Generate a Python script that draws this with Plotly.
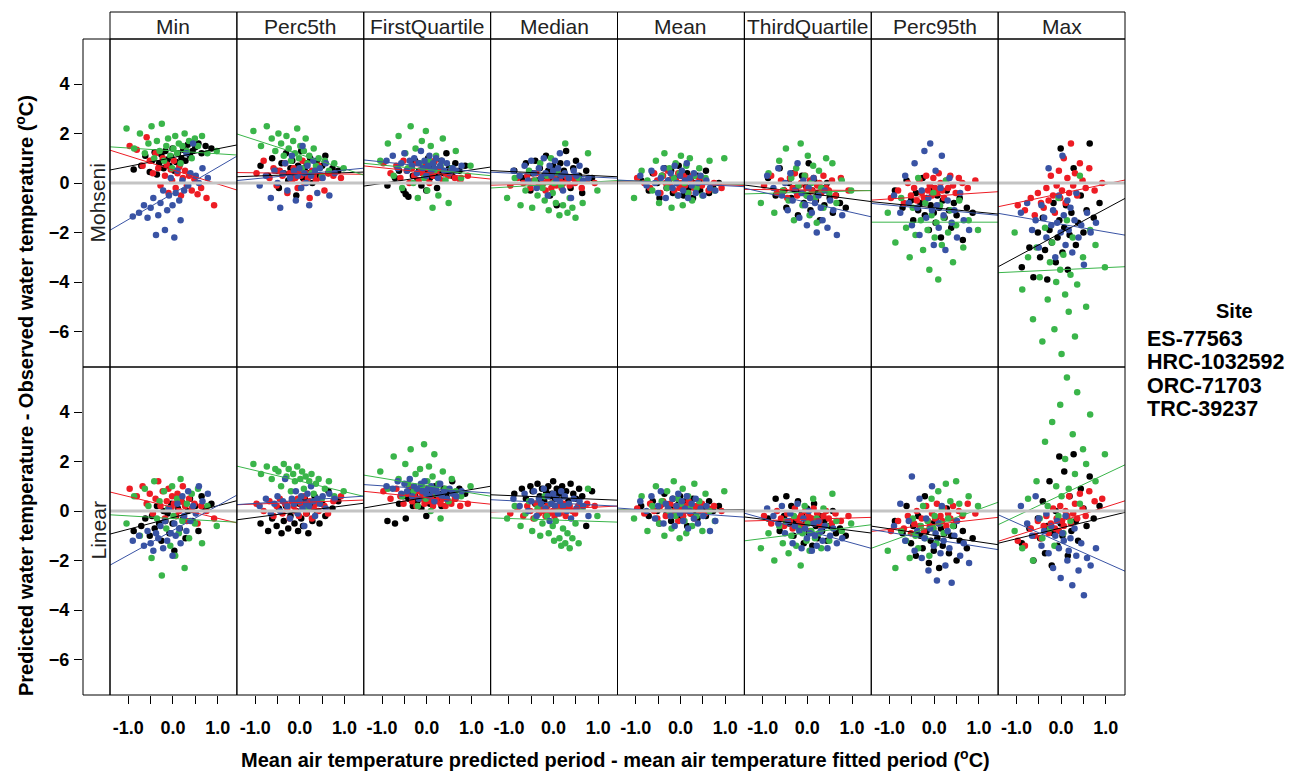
import plotly.graph_objects as go

# ---------------- data ----------------
stats = ["Min", "Perc5th", "FirstQuartile", "Median", "Mean", "ThirdQuartile", "Perc95th", "Max"]
models = ["Mohseni", "Linear"]
sites = ["ES-77563", "HRC-1032592", "ORC-71703", "TRC-39237"]
site_colors = ["#000000", "#ED1C24", "#3AB54A", "#3953A4"]

x_ticks = [-1.0, 0.0, 1.0]
x_tick_text = ["-1.0", "0.0", "1.0"]
x_minor_ticks = [-0.5, 0.5]
y_ticks = [-6, -4, -2, 0, 2, 4]

# air-temperature difference (predicted - fitted period), per site
x_es = [-0.88, -0.71, -0.62, -0.52, -0.47, -0.41, -0.36, -0.31, -0.26, -0.21,
        -0.17, -0.12, -0.08, -0.04, -0.01, 0.03, 0.07, 0.11, 0.15, 0.19,
        0.23, 0.28, 0.33, 0.38, 0.44, 0.5, 0.57, 0.64, 0.73, 0.86]
x_hrc = [-0.97, -0.81, -0.68, -0.59, -0.52, -0.45, -0.39, -0.33, -0.28, -0.23,
         -0.18, -0.14, -0.1, -0.05, -0.02, 0.02, 0.06, 0.1, 0.14, 0.18,
         0.22, 0.27, 0.31, 0.36, 0.42, 0.48, 0.55, 0.63, 0.75, 0.92]
x_orc = [-1.04, -0.87, -0.74, -0.63, -0.55, -0.48, -0.42, -0.36, -0.3, -0.25,
         -0.2, -0.15, -0.11, -0.06, -0.02, 0.01, 0.05, 0.09, 0.13, 0.17,
         0.21, 0.26, 0.31, 0.36, 0.42, 0.49, 0.56, 0.65, 0.77, 0.98]
x_trc = [-0.9, -0.76, -0.65, -0.57, -0.5, -0.44, -0.38, -0.33, -0.28, -0.22,
         -0.18, -0.13, -0.09, -0.05, -0.01, 0.03, 0.06, 0.1, 0.14, 0.17,
         0.21, 0.25, 0.3, 0.34, 0.39, 0.45, 0.51, 0.58, 0.66, 0.78]

# predicted - observed water temperature, per panel: [ES, HRC, ORC, TRC]
mohseni_min = [
    [0.55, 0.7, 1.1, 0.45, 0.9, 1.25, 0.35, 0.8, 1.15, 0.6, 1.3, 0.95, 0.7, 1.05, 1.4, 0.5, 0.85, 1.2, 0.75, 1.0, 1.35, 0.9, 1.55, 1.1, 1.3, 1.45, 1.6, 1.2, 1.5, 1.4],
    [1.5, 1.35, 0.7, 1.85, 0.9, 0.4, 1.2, 0.6, -0.1, 1.0, 0.3, 0.75, -0.4, 0.55, 0.1, 0.9, -0.2, 0.4, 0.65, -0.5, 0.2, 0.5, -0.1, 0.3, -0.3, 0.15, -0.45, -0.2, -0.6, -0.9],
    [2.2, 1.4, 2.0, 1.2, 1.6, 2.3, 1.0, 1.7, 1.3, 2.4, 0.9, 1.5, 1.8, 1.1, 0.6, 1.4, 1.9, 1.2, 1.6, 0.8, 1.5, 2.0, 1.3, 1.7, 1.0, 1.8, 1.5, 1.9, 1.2, 1.3],
    [-1.35, -1.2, -0.9, -1.4, -1.0, -0.6, -2.1, -1.3, -0.8, -0.3, -1.9, -1.1, -0.5, 0.2, -0.9, -2.2, -0.4, 0.5, -0.7, -1.5, 0.1, -0.3, 1.2, -0.1, 0.4, 1.6, 0.3, 0.0, 0.6, 0.2]]
mohseni_perc5th = [
    [0.7, 0.3, 1.0, 0.5, -0.2, 0.8, 0.4, 1.2, 0.1, 0.6, 0.9, 0.3, -0.5, 0.7, 0.5, 1.3, 0.2, 0.6, 0.8, 0.4, 1.0, 0.0, 0.5, 0.9, 0.3, 0.7, 1.1, 0.4, 0.6, 0.5],
    [0.4, 0.9, 0.2, 0.6, -0.1, 0.5, 0.3, 0.8, -0.4, 0.4, 0.1, 0.6, 0.2, -0.2, 0.5, 0.3, 0.9, 0.0, 0.4, 0.2, -0.6, 0.5, 0.3, 0.1, 0.7, 0.2, -0.3, 0.4, 0.3, 0.2],
    [2.1, 1.5, 2.3, 1.8, 1.3, 2.0, 1.6, 1.1, 1.9, 1.4, 0.9, 1.7, 1.2, 2.2, 1.0, 1.5, 0.6, 1.3, 1.8, 0.8, 1.1, 0.4, 1.4, 0.7, 1.0, 0.3, 0.9, 0.5, 0.8, 0.6],
    [-0.1, 0.3, -0.6, 0.5, 0.0, -1.0, 0.4, 0.8, -0.3, 0.2, 1.1, 0.5, -0.7, 0.3, 0.6, -0.2, 1.5, 0.4, 0.0, 0.7, -0.9, 0.3, 0.9, 0.5, -0.4, 0.6, 0.2, 0.8, -0.5, 0.4]]
mohseni_firstquartile = [
    [-0.1, 0.2, 0.5, -0.3, -0.45, -0.55, 0.6, 0.3, 0.9, 0.1, 0.5, -0.1, 0.7, 0.4, -0.3, 1.0, 0.2, 0.6, 0.8, 0.3, -0.2, 0.5, 0.9, 0.4, 1.2, 0.6, 0.3, 0.8, 0.5, 0.7],
    [0.8, 0.4, 0.7, 0.2, 0.9, 0.5, 0.0, 0.6, 0.3, 0.8, 0.1, 0.5, 0.4, 0.7, 0.2, 0.6, 0.0, 0.4, 0.3, 0.9, 0.5, 0.2, 0.6, 0.1, 0.4, 0.3, 0.5, 0.2, 0.1, 0.3],
    [0.9, 1.6, 0.3, 1.9, -0.2, 1.2, 0.6, 2.3, 0.0, 1.4, -0.6, 0.8, 1.7, 0.2, 2.1, -0.3, 0.9, 1.5, -1.0, 0.5, 1.1, -0.5, 0.7, 1.8, 0.1, -0.8, 0.6, 1.3, 0.2, 0.7],
    [0.9, 1.1, 0.6, 0.8, 1.2, 0.5, 0.9, 0.7, 1.0, 0.4, 0.8, 1.3, 0.6, 0.9, 0.3, 0.7, 1.1, 0.5, 0.8, 0.6, 1.0, 0.2, 0.7, 0.9, 0.5, 0.8, 0.4, 0.6, 0.5, 0.7]]
mohseni_median = [
    [0.5, 0.2, 0.8, -0.3, 0.4, 0.9, 0.1, 0.6, -0.1, 0.3, 1.1, 0.5, -0.5, 0.2, 0.7, 0.4, -0.9, 0.3, 0.8, 0.1, 0.5, 1.3, 0.2, -0.2, 0.6, 0.9, 0.3, -0.4, 0.5, 0.2],
    [-0.1, 0.2, 0.0, 0.3, -0.2, 0.1, 0.4, -0.1, 0.2, 0.0, -0.3, 0.1, 0.3, -0.2, 0.0, 0.2, -0.1, 0.4, 0.1, -0.2, 0.0, 0.3, 0.1, -0.1, 0.2, 0.0, 0.1, -0.2, 0.1, 0.0],
    [-0.6, 0.2, -0.9, -0.3, 0.5, -1.0, 0.1, -0.5, 0.8, -0.2, -0.7, 0.3, -1.1, 1.0, -0.4, 0.0, -0.8, 0.4, -1.3, -0.1, -0.9, 1.6, -1.2, -0.6, -1.0, -1.4, 0.2, -0.8, 1.2, -0.3],
    [0.5, 0.3, 0.7, 0.1, 0.9, 0.4, -0.2, 0.6, 0.2, 1.0, 0.4, -0.5, 0.7, 0.3, 0.5, 0.9, 0.1, 0.6, 1.2, 0.3, -0.3, 0.4, 0.8, 0.2, -0.6, 0.5, 0.3, 0.7, 0.1, 0.2]]
mohseni_mean = [
    [0.1, -0.3, 0.4, 0.0, -0.6, 0.3, 0.6, -0.2, 0.1, 0.5, -0.4, 0.2, 0.0, 0.7, -0.1, 0.3, -0.5, 0.1, 0.4, -0.2, 0.2, -0.6, 0.0, 0.3, -0.3, 0.1, 0.5, -0.4, -0.1, 0.0],
    [0.2, 0.0, -0.2, 0.4, 0.1, -0.4, 0.3, 0.0, 0.5, -0.1, 0.2, -0.3, 0.1, 0.4, -0.2, 0.0, 0.3, -0.1, 0.2, -0.4, 0.1, 0.3, -0.2, 0.0, 0.2, -0.1, 0.1, -0.3, 0.0, -0.2],
    [-0.6, 0.5, 0.1, -0.3, 0.9, -0.8, 0.3, 1.2, -0.2, 0.6, -1.0, 0.2, 0.8, -0.5, 0.4, 1.1, -0.9, 0.0, 0.7, -0.4, 1.0, -0.7, 0.3, -0.2, 0.6, -0.5, 0.2, 0.9, -0.3, 1.0],
    [0.3, -0.1, 0.5, 0.0, -0.4, 0.2, 0.6, -0.6, 0.1, 0.4, -0.2, 0.7, 0.0, -0.5, 0.3, 0.5, -0.3, 0.1, 0.8, -0.6, 0.2, -0.1, 0.4, -0.4, 0.0, 0.3, -0.5, 0.1, -0.2, -0.3]]
mohseni_thirdquartile = [
    [0.2, -0.5, 0.6, -0.3, -1.0, 0.0, -0.6, 0.4, -0.2, -1.3, -0.4, 0.3, -0.8, -0.1, -0.5, 0.8, -1.1, -0.3, 0.1, -0.7, -0.4, -1.5, -0.2, -0.9, 0.0, -0.6, -1.2, -0.5, -0.8, -1.0],
    [-0.1, 0.3, -0.4, 0.1, -0.3, -0.6, 0.2, -0.2, 0.4, -0.5, -0.1, 0.0, -0.4, 0.3, -0.2, -0.5, 0.1, -0.3, 0.2, -0.6, -0.1, 0.0, -0.4, 0.3, -0.2, -0.3, 0.1, -0.5, 0.2, -0.3],
    [-0.8, 0.4, -1.2, 0.9, -0.3, 1.4, -0.7, 0.2, -1.5, 0.6, -0.1, 1.6, -0.9, 0.3, -0.5, 1.1, -1.3, 0.0, 0.7, -0.6, -1.6, 0.5, -0.2, -1.0, 1.0, -0.4, 0.8, -0.8, 0.1, -0.3],
    [0.3, -0.2, 0.6, -0.5, 0.0, -1.1, 0.4, -0.7, -0.3, 0.8, -1.4, -0.4, 0.1, -0.9, -1.7, -0.2, -0.6, -1.2, 0.2, -0.8, -2.0, -0.5, -1.0, -1.5, -0.3, -1.8, -0.7, -1.1, -2.1, -1.3]]
mohseni_perc95th = [
    [-0.3, -1.0, 0.1, -0.7, -1.5, -0.4, -1.1, -0.8, 0.2, -1.3, -0.6, -1.9, -0.9, -0.2, -1.2, -1.6, -0.5, -1.0, -2.2, -0.7, -1.4, -0.3, -1.1, -1.8, -0.8, -1.3, -0.6, -2.3, -1.0, -1.2],
    [-0.6, -0.3, -0.8, 0.0, -0.5, -0.2, -0.7, 0.1, -0.4, -0.6, 0.3, -0.3, -0.1, -0.5, 0.2, -0.2, -0.4, 0.4, 0.0, -0.3, -0.6, 0.1, -0.2, 0.3, -0.1, -0.4, 0.2, 0.0, -0.2, 0.1],
    [-1.2, -2.4, -0.6, -1.8, -3.0, -1.0, -2.1, 0.2, -1.5, -2.7, -0.8, -1.9, -3.5, -1.3, -0.4, -2.2, -1.6, -3.9, -0.9, -2.5, -1.4, 0.1, -2.0, -1.1, -3.2, -1.7, -0.7, -2.6, -1.5, -1.9],
    [-0.5, -1.2, 0.3, -0.8, -1.7, 0.8, -1.0, -2.1, -0.3, 1.3, -1.4, -0.6, 1.6, -1.1, -2.5, 0.5, -0.9, -1.8, -0.2, 1.1, -1.3, -2.7, -0.7, 0.2, -1.6, -1.1, -2.2, -0.4, -1.5, -1.9]]
mohseni_max = [
    [-3.4, -2.6, -3.8, -2.0, -3.0, -1.4, -2.7, -3.9, -1.9, -2.4, -0.8, -3.2, -2.2, -1.5, 1.4, -2.8, -1.8, -0.9, -3.5, -2.1, -1.2, 0.6, -2.5, -1.6, -0.5, -2.0, -1.1, 1.6, -1.4, -0.8],
    [-0.9, -1.1, -0.6, -1.3, -0.4, -0.8, -1.0, -0.2, -0.7, 0.3, -0.5, -1.2, -0.1, 0.5, -0.6, -0.3, 1.0, -0.8, 0.2, -0.4, 1.6, -0.1, 0.4, -0.5, 0.8, 0.1, -0.2, 0.6, -0.3, 0.0],
    [-2.0, -4.3, -3.0, -5.5, -2.6, -3.8, -6.4, -1.8, -4.7, -3.2, -2.4, -5.9, -4.0, -0.6, -3.5, -6.9, -2.9, -4.5, -1.5, -5.2, -3.7, -2.2, -6.2, -4.1, 0.3, -3.0, -5.0, -1.9, -2.5, -3.4],
    [-1.2, -0.8, -1.9, -1.5, -2.6, -0.9, -1.4, -2.2, 0.6, -1.7, -1.1, -3.0, -1.6, -0.5, -2.0, 1.1, -1.3, -2.5, -0.7, -1.9, -1.0, -2.8, -1.5, -0.4, -2.2, -1.7, -3.3, -1.2, -2.0, -1.6]]

linear_min = [
    [-0.8, -0.6, -0.3, -1.0, -0.2, -0.7, 0.2, -0.5, -1.2, 0.0, -0.4, -0.1, -0.9, 0.3, -0.5, -1.6, -0.2, 0.1, -0.7, 0.4, -0.3, -1.1, 0.0, 0.5, -0.4, 0.2, -0.8, 0.6, 0.1, 0.3],
    [0.9, 0.6, 1.0, 0.3, 0.7, -0.1, 0.5, 1.2, 0.2, 0.8, -0.3, 0.4, 0.9, 0.1, 0.6, 0.3, -0.2, 0.7, 0.0, 0.4, 1.0, 0.2, -0.4, 0.5, 0.1, 0.3, -0.5, 0.2, 0.0, -0.3],
    [-0.5, 0.6, -1.0, 0.9, 0.2, -1.9, 1.2, -0.3, 0.4, -2.6, 0.8, -0.7, 0.1, -1.4, 1.0, -0.2, -1.8, 0.5, -0.9, 1.3, -0.4, -2.3, 0.3, -1.1, 0.7, -0.5, 0.9, -1.3, 0.2, -0.6],
    [-1.2, -1.0, -1.4, -0.8, -1.3, -1.6, -0.9, -1.1, -0.6, -1.5, -0.4, -1.2, 0.1, -0.9, -1.8, -0.5, -1.0, 0.3, -0.7, -1.3, 0.6, -0.2, -0.8, 0.8, -0.4, 0.2, -0.1, 1.0, 0.4, 0.7]]
linear_perc5th = [
    [-0.5, -0.8, -0.3, -0.6, 0.1, -0.9, -0.4, 0.2, -0.7, -0.2, 0.4, -0.5, 0.0, -0.8, 0.3, -0.3, -0.6, 0.5, -0.1, -0.9, 0.2, -0.4, 0.6, 0.0, -0.5, 0.3, -0.2, 0.8, 0.1, 0.4],
    [0.3, 0.0, 0.4, -0.2, 0.2, 0.5, -0.1, 0.3, 0.1, -0.3, 0.4, 0.2, 0.0, 0.5, -0.2, 0.3, 0.1, 0.6, -0.1, 0.2, 0.4, -0.3, 0.1, 0.3, 0.0, 0.5, 0.2, -0.1, 0.4, 0.6],
    [1.9, 1.5, 1.8, 1.3, 1.7, 1.6, 1.0, 1.9, 1.4, 1.7, 0.8, 1.5, 1.2, 1.8, 0.4, 1.3, 1.6, 0.9, 1.4, 0.1, 1.2, 1.5, 0.7, 1.1, 1.3, 0.5, 0.9, 1.2, 0.6, 0.8],
    [0.2, 0.5, -0.1, 0.3, 0.6, 0.0, 0.4, 1.3, 0.2, -0.3, 0.5, 0.3, 0.8, -0.1, 0.4, 0.6, 0.1, -0.6, 0.3, 0.7, 0.2, 1.0, 0.4, -0.2, 0.5, 0.3, 0.6, 0.1, 0.7, 0.5]]
linear_firstquartile = [
    [-0.4, -0.5, 0.3, 0.6, -0.3, 0.5, 0.8, 0.2, 0.6, 0.4, 0.9, 0.1, 0.7, 0.5, -0.2, 0.8, 0.3, 0.6, 0.4, 1.0, 0.5, 0.7, 0.2, 0.9, 0.6, 0.8, 1.2, 0.5, 0.9, 0.7],
    [0.8, 0.5, 0.9, 0.6, 0.3, 0.7, 1.0, 0.4, 0.6, 0.2, 0.8, 0.5, 0.7, 0.3, 0.6, 0.9, 0.4, 0.5, 0.2, 0.7, 0.4, 0.6, 0.3, 0.5, 0.2, 0.4, 0.3, 0.5, 0.2, 0.3],
    [1.6, 0.9, 2.2, 1.3, 0.6, 1.9, 1.1, 2.5, 0.8, 1.5, 0.2, 1.7, 1.0, 2.7, 0.5, 1.2, 1.8, 0.0, 1.4, 2.3, 0.7, 1.1, -0.3, 1.6, 0.9, 0.4, 1.3, 0.8, 0.6, 1.0],
    [1.0, 0.9, 1.2, 0.7, 1.1, 0.8, 1.3, 0.6, 1.0, 0.9, 0.5, 1.1, 0.8, 1.2, 0.7, 0.9, 0.6, 1.0, 0.8, 0.4, 0.9, 0.7, 1.1, 0.6, 0.8, 0.5, 0.9, 0.7, 0.6, 0.8]]
linear_median = [
    [0.7, 0.9, 0.5, 1.0, 0.8, 0.3, 1.1, 0.6, 0.9, 0.4, 0.8, 1.0, 0.6, 0.7, 1.2, 0.5, 0.9, 0.7, 0.3, 1.0, 0.6, 0.8, 0.4, 1.1, 0.7, 0.5, 0.9, 0.6, -0.6, 0.8],
    [-0.1, 0.1, -0.2, 0.2, 0.0, -0.3, 0.3, -0.1, 0.1, 0.0, -0.2, 0.2, -0.1, 0.3, 0.0, -0.2, 0.1, 0.2, -0.1, 0.0, 0.3, -0.2, 0.1, 0.2, 0.0, -0.1, 0.2, 0.1, 0.3, 0.2],
    [-0.3, 0.2, -0.6, -0.1, 0.4, -0.8, -0.3, 0.1, -1.0, -0.5, 0.6, -0.2, -0.9, 0.3, -0.6, -1.2, -0.4, 0.0, -1.1, -1.4, -0.7, -1.3, -0.9, -1.5, -1.1, -0.5, -1.3, 0.1, 0.9, -0.2],
    [0.5, 0.2, 0.7, 0.0, 0.4, 0.8, -0.2, 0.5, 0.3, 0.9, 0.1, 0.6, -0.4, 0.3, 0.7, 0.2, 0.5, -0.1, 0.4, 0.8, 0.2, 0.6, 0.0, 0.3, -0.3, 0.5, 0.1, 0.4, 0.2, -0.2]]
linear_mean = [
    [0.2, -0.2, 0.4, 0.0, -0.5, 0.3, 0.7, -0.1, 0.2, -0.4, 0.5, 0.1, -0.2, 0.3, 0.6, -0.3, 0.0, 0.4, -0.6, 0.2, -0.1, 0.5, 0.0, -0.3, 0.3, 0.1, -0.2, 0.4, 0.0, 0.2],
    [0.1, -0.1, 0.3, 0.0, -0.3, 0.2, 0.4, -0.2, 0.1, 0.3, -0.1, 0.0, 0.2, -0.4, 0.1, 0.3, -0.2, 0.0, 0.2, 0.4, -0.1, 0.1, -0.3, 0.2, 0.0, 0.3, -0.1, 0.1, 0.2, 0.0],
    [-0.3, 0.6, -0.8, 0.2, 1.0, -0.5, 0.4, -1.0, 0.8, 0.0, -0.7, 1.2, -0.2, 0.5, -1.1, 0.3, 0.9, -0.4, -0.9, 0.6, 0.1, -0.6, 1.1, -0.2, 0.4, -0.8, 0.7, 0.0, -0.4, 0.8],
    [0.4, 0.0, 0.6, -0.3, 0.2, 0.8, -0.5, 0.3, 0.1, -0.2, 0.5, -0.6, 0.2, 0.7, -0.1, 0.4, -0.4, 0.1, 0.6, -0.7, 0.0, 0.3, -0.3, 0.5, -0.5, 0.1, -0.2, 0.2, -0.8, -0.4]]
linear_thirdquartile = [
    [-0.3, 0.5, -0.8, -0.2, 0.6, -0.5, 0.2, -1.0, -0.4, 0.4, -0.7, -0.1, -1.3, -0.5, 0.1, -0.9, -0.3, -1.4, 0.3, -0.6, -1.1, -0.2, -0.8, -0.4, -1.2, -0.6, 0.0, -0.9, -0.7, -1.0],
    [-0.2, -0.5, 0.0, -0.3, -0.6, -0.1, -0.4, -0.7, 0.1, -0.3, -0.5, -0.2, -0.6, 0.0, -0.4, -0.2, -0.8, -0.3, 0.1, -0.5, -0.1, -0.4, -0.6, -0.2, 0.0, -0.3, -0.5, -0.1, -0.4, -0.2],
    [-1.5, -0.9, -2.0, -0.6, -1.3, -0.4, -1.7, -1.0, -0.2, -1.4, -0.7, -2.2, -0.9, 0.2, -1.2, -0.5, -1.6, -0.8, 0.5, -1.1, -0.3, -0.9, -1.5, 0.1, -0.6, -1.2, 0.7, -0.4, -0.8, -0.5],
    [0.1, -0.2, -0.5, 0.2, -0.9, -0.4, -0.1, -1.3, -0.6, 0.3, -0.8, -1.5, -0.3, -0.7, -1.1, 0.0, -0.9, -1.6, -0.5, -1.0, -1.4, -0.4, -0.8, -1.2, -0.6, -1.5, -1.0, -0.7, -1.3, -1.1]]
linear_perc95th = [
    [-0.4, -0.9, 0.2, -1.3, -0.6, -1.8, -0.2, -1.0, -1.5, 0.6, -0.8, -2.1, -1.2, -0.5, -1.6, -0.3, -1.1, -2.3, -0.7, -1.4, -0.9, 0.1, -1.7, -1.0, -0.6, -2.0, -1.2, -0.8, -1.5, -1.1],
    [-0.8, -0.4, -0.7, -0.2, -0.9, -0.5, 0.0, -0.6, -0.3, -0.8, 0.2, -0.4, -0.6, -0.1, -0.7, -0.3, 0.3, -0.5, -0.2, -0.4, 0.1, -0.6, -0.1, -0.3, 0.2, -0.4, 0.0, -0.2, 0.3, -0.1],
    [-1.6, -2.3, -0.8, -1.2, -1.9, -0.3, -1.0, -1.5, -0.6, 0.2, -1.1, -0.4, -1.8, 0.5, -0.7, -0.2, -1.3, 0.8, -0.5, 0.1, -0.9, 1.1, -0.3, 0.4, -0.6, 1.2, 0.3, -0.1, 0.6, 0.2],
    [-0.6, 0.3, -1.2, -0.4, 1.4, -1.6, -0.8, 0.5, -1.9, -1.1, -0.3, -2.4, -0.7, 1.0, -1.4, -0.9, -2.8, -0.5, -1.7, 0.2, -1.2, -2.2, -0.8, -1.5, -2.9, -1.0, -0.4, -1.8, -1.3, -2.1]]
linear_max = [
    [-1.3, -0.7, -2.0, -0.3, -1.1, 0.4, -1.7, -0.6, 1.2, -2.2, -0.9, 0.0, -1.4, 2.2, -0.5, -1.0, 1.6, -0.2, -1.8, 0.6, -0.8, 2.3, -0.4, -1.2, 0.9, 0.1, -0.6, 1.4, -0.3, 0.2],
    [-1.2, -1.4, -0.7, -1.0, -0.4, -1.1, -0.6, -0.2, -0.9, -0.5, 0.1, -0.7, -0.3, -0.8, 0.2, -0.4, -0.6, 0.0, -0.2, 0.6, -0.5, -0.1, 0.3, -0.3, 0.7, 0.1, -0.2, 0.8, 0.4, 0.5],
    [-0.8, -1.5, 0.5, -2.0, 1.2, -0.3, -1.1, 2.8, 0.2, -0.7, 3.6, -1.4, 1.0, -0.2, 4.3, 0.6, -0.9, 2.1, 5.4, 0.9, -0.4, 3.1, 1.5, 4.8, 0.3, 2.5, 1.9, 3.9, 1.2, 2.3],
    [0.2, -0.5, -1.0, 0.6, -0.3, -1.4, -0.8, -0.1, -1.7, -0.6, -2.3, -1.0, -0.4, -1.5, -2.7, -0.9, -1.2, -0.2, -2.0, -1.6, -1.1, -3.0, -0.7, -1.8, -2.4, -1.3, -3.4, -1.9, -2.2, -1.5]]

# fitted regression lines per panel: [ES, HRC, ORC, TRC]
mohseni_intercept = [[1.03, 0.53, 1.30, -0.42], [0.35, 0.39, 1.16, 0.35], [0.26, 0.43, 0.55, 0.67],
                     [0.38, -0.02, -0.05, 0.32], [0.0, 0.0, 0.03, -0.01], [-0.41, -0.28, -0.37, -0.78],
                     [-1.0, -0.52, -1.58, -1.06], [-2.01, -0.42, -3.5, -1.66]]
mohseni_slope = [[0.356, -0.567, -0.116, 1.053], [0.067, -0.025, -0.585, 0.176], [0.271, -0.187, -0.176, -0.187],
                 [-0.088, 0.046, 0.106, -0.085], [-0.035, -0.07, -0.053, -0.095], [-0.236, -0.018, 0.049, -0.408],
                 [-0.176, 0.12, 0.0, -0.169], [0.972, 0.38, 0.085, -0.31]]
linear_intercept = [[-0.26, 0.15, -0.3, -0.78], [-0.02, 0.35, 1.21, 0.43], [0.56, 0.54, 1.03, 0.9],
                    [0.55, 0.08, -0.36, 0.33], [0.03, 0.03, 0.03, -0.06], [-0.56, -0.33, -0.88, -0.79],
                    [-0.98, -0.54, -0.58, -1.15], [-0.68, -0.41, 0.65, -1.28]]
linear_slope = [[0.475, -0.44, -0.106, 0.996], [0.236, 0.067, -0.43, 0.12], [0.31, -0.183, -0.3, -0.12],
                [-0.077, 0.085, -0.06, -0.092], [0.018, -0.018, -0.018, -0.13], [-0.229, 0.053, 0.229, -0.5],
                [-0.264, 0.2, 0.655, -0.285], [0.44, 0.577, 0.852, -0.803]]

# ---------------- layout geometry (pixels) ----------------
W, H = 1295, 771
PX_L, PX_R = 110, 1125
STRIP_T, PANEL_T, PANEL_MID, PANEL_B = 12, 39, 367, 695
STRIP_L = 83
CW = (PX_R - PX_L) / 8
X_RANGE = [-1.41, 1.43]
Y_RANGE = [-7.43, 5.82]
FONT = "Liberation Sans, Arial, sans-serif"
TICK_FONT = dict(family=FONT, size=18, color="black", weight="bold")


def fx(p):
    return p / W


def fy(p):
    return 1 - p / H


site_x = [x_es, x_hrc, x_orc, x_trc]
panel_y = {"Mohseni": [mohseni_min, mohseni_perc5th, mohseni_firstquartile, mohseni_median,
                       mohseni_mean, mohseni_thirdquartile, mohseni_perc95th, mohseni_max],
           "Linear": [linear_min, linear_perc5th, linear_firstquartile, linear_median,
                      linear_mean, linear_thirdquartile, linear_perc95th, linear_max]}
fits = {"Mohseni": (mohseni_intercept, mohseni_slope), "Linear": (linear_intercept, linear_slope)}
row_px = [(PANEL_T, PANEL_MID), (PANEL_MID, PANEL_B)]

fig = go.Figure()
shapes = []
annotations = []
layout_axes = {}

for r, model in enumerate(models):
    for c, stat in enumerate(stats):
        i = r * 8 + c + 1
        sfx = "" if i == 1 else str(i)
        xa, ya = "x" + sfx, "y" + sfx
        ints, slps = fits[model]
        for s in range(4):
            fig.add_trace(go.Scatter(
                x=site_x[s], y=panel_y[model][c][s], mode="markers",
                marker=dict(color=site_colors[s], size=6.5, line=dict(width=0)),
                xaxis=xa, yaxis=ya, showlegend=False, hoverinfo="skip"))
        for s in range(4):
            a, b = ints[c][s], slps[c][s]
            fig.add_trace(go.Scatter(
                x=X_RANGE, y=[a + b * X_RANGE[0], a + b * X_RANGE[1]], mode="lines",
                line=dict(color=site_colors[s], width=1),
                xaxis=xa, yaxis=ya, showlegend=False, hoverinfo="skip"))

        x0p, x1p = PX_L + c * CW, PX_L + (c + 1) * CW
        y0p, y1p = row_px[r]
        xaxis = dict(domain=[fx(x0p), fx(x1p)], range=X_RANGE, anchor=ya,
                     showgrid=False, zeroline=False, showline=False, fixedrange=True)
        if r == 1:
            xaxis.update(tickmode="array", tickvals=x_ticks, ticktext=x_tick_text,
                         ticks="outside", ticklen=8, tickwidth=1, tickcolor="black",
                         ticklabelstandoff=8, tickfont=TICK_FONT,
                         minor=dict(tickmode="array", tickvals=x_minor_ticks, ticks="outside",
                                    ticklen=8, tickwidth=1, tickcolor="black", showgrid=False))
        else:
            xaxis.update(showticklabels=False, ticks="")
        yaxis = dict(domain=[fy(y1p), fy(y0p)], range=Y_RANGE, anchor=xa,
                     showgrid=False, zeroline=False, showline=False, fixedrange=True,
                     showticklabels=False, ticks="")
        layout_axes["xaxis" + sfx] = xaxis
        layout_axes["yaxis" + sfx] = yaxis

        # zero reference line
        shapes.append(dict(type="line", xref=xa + " domain", yref=ya, x0=0, x1=1, y0=0, y1=0,
                           line=dict(color="#C4C4C4", width=3), layer="above"))

# y tick axes placed on the left edge of the strip column (one per row)
for r in range(2):
    i = 17 + r
    y0p, y1p = row_px[r]
    layout_axes["xaxis%d" % i] = dict(domain=[fx(STRIP_L), fx(PX_L)], range=[0, 1], anchor="y%d" % i,
                                      visible=False, fixedrange=True)
    layout_axes["yaxis%d" % i] = dict(domain=[fy(y1p), fy(y0p)], range=Y_RANGE, anchor="x%d" % i,
                                      side="left", showgrid=False, zeroline=False, showline=False,
                                      fixedrange=True, tickmode="array", tickvals=y_ticks,
                                      ticks="outside", ticklen=8, tickwidth=1, tickcolor="black",
                                      ticklabelstandoff=1, tickfont=TICK_FONT)
    fig.add_trace(go.Scatter(x=[None], y=[None], mode="markers", xaxis="x%d" % i, yaxis="y%d" % i,
                             showlegend=False, hoverinfo="skip"))

# panel frames
for r in range(2):
    y0p, y1p = row_px[r]
    for c in range(8):
        shapes.append(dict(type="rect", xref="paper", yref="paper",
                           x0=fx(PX_L + c * CW), x1=fx(PX_L + (c + 1) * CW), y0=fy(y1p), y1=fy(y0p),
                           line=dict(color="black", width=1), fillcolor="rgba(0,0,0,0)", layer="above"))
    # left strip
    shapes.append(dict(type="rect", xref="paper", yref="paper",
                       x0=fx(STRIP_L), x1=fx(PX_L), y0=fy(y1p), y1=fy(y0p),
                       line=dict(color="black", width=1), fillcolor="rgba(0,0,0,0)", layer="above"))
    annotations.append(dict(text=models[r], xref="paper", yref="paper",
                            x=fx((STRIP_L + PX_L) / 2 + 1), y=fy((y0p + y1p) / 2),
                            textangle=-90, showarrow=False, xanchor="center", yanchor="middle",
                            font=dict(family=FONT, size=21, color="#222222")))
# top strips
for c, stat in enumerate(stats):
    shapes.append(dict(type="rect", xref="paper", yref="paper",
                       x0=fx(PX_L + c * CW), x1=fx(PX_L + (c + 1) * CW), y0=fy(PANEL_T), y1=fy(STRIP_T),
                       line=dict(color="black", width=1), fillcolor="rgba(0,0,0,0)", layer="above"))
    annotations.append(dict(text=stat, xref="paper", yref="paper",
                            x=fx(PX_L + (c + 0.5) * CW), y=fy((STRIP_T + PANEL_T) / 2 + 1),
                            showarrow=False, xanchor="center", yanchor="middle",
                            font=dict(family=FONT, size=21, color="#222222")))

# axis titles
annotations.append(dict(
    text="Mean air temperature predicted period - mean air temperature fitted period (<sup>o</sup>C)",
    xref="paper", yref="paper", x=fx(615), y=fy(758), showarrow=False,
    xanchor="center", yanchor="middle", font=dict(family=FONT, size=20, color="black", weight="bold")))
annotations.append(dict(
    text="Predicted water temperature - Observed water temperature (<sup>o</sup>C)",
    xref="paper", yref="paper", x=fx(25), y=fy(396), showarrow=False, textangle=-90,
    xanchor="center", yanchor="middle", font=dict(family=FONT, size=20, color="black", weight="bold")))

# key (text only)
annotations.append(dict(text="Site", xref="paper", yref="paper", x=fx(1234), y=fy(311),
                        showarrow=False, xanchor="center", yanchor="middle",
                        font=dict(family=FONT, size=20, color="black", weight="bold")))
for k, name in enumerate(sites):
    annotations.append(dict(text=name, xref="paper", yref="paper", x=fx(1145), y=fy(339 + k * 23.3),
                            showarrow=False, xanchor="left", yanchor="middle",
                            font=dict(family=FONT, size=21.5, color="black", weight="bold")))

fig.update_layout(
    width=W, height=H, autosize=False,
    margin=dict(l=0, r=0, t=0, b=0, pad=0),
    paper_bgcolor="white", plot_bgcolor="white",
    showlegend=False, shapes=shapes, annotations=annotations,
    **layout_axes)

fig.write_html("out.html", config={"displayModeBar": False},
               post_script="document.body.style.margin='0px';")
